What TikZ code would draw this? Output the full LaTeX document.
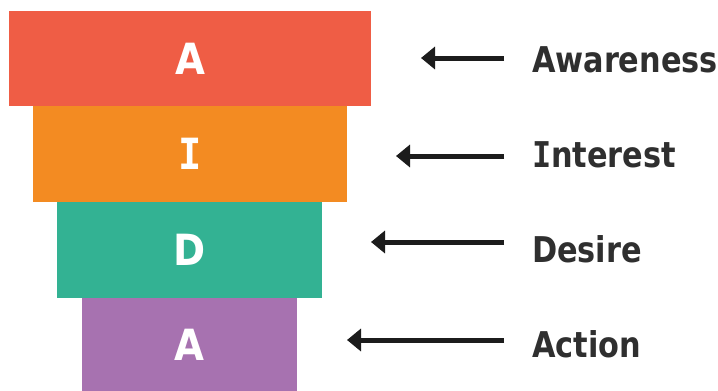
\documentclass[tikz,border=0pt]{standalone}
\usepackage{fontspec}
\setmainfont{DejaVu Sans}
\newfontfamily\labfont{DejaVu Sans}[FakeStretch=0.855]
\newfontfamily\letfont{DejaVu Sans}[FakeStretch=0.9]
\newfontfamily\serifI{DejaVu Sans Mono}[FakeStretch=0.9]
\usetikzlibrary{arrows.meta}
\definecolor{cred}{HTML}{EF5D45}
\definecolor{corange}{HTML}{F38B22}
\definecolor{cteal}{HTML}{33B293}
\definecolor{cpurple}{HTML}{A772B0}
\definecolor{ctext}{HTML}{2F2F2F}
\definecolor{carrow}{HTML}{1C1C1C}
\tikzset{
  stagebox/.style={draw=none, inner sep=0pt, outer sep=0pt, anchor=north west,
    font=\letfont\bfseries\fontsize{43}{43}\selectfont, text=white},
  stagelabel/.style={inner sep=0pt, outer sep=0pt, anchor=base west,
    font=\labfont\bfseries\fontsize{35.5}{36}\selectfont, text=ctext},
  pointer/.style={draw=carrow, line width=5pt,
    -{Triangle[length=14pt,width=22pt]}}
}
\begin{document}
\begin{tikzpicture}[x=1pt,y=-1pt]
\useasboundingbox (0,0) rectangle (718,391);
\fill[white] (0,0) rectangle (718,391);
% funnel stages
\node[stagebox, fill=cred, minimum width=362pt, minimum height=95pt] (sA) at (9,11) {A};
\node[stagebox, fill=corange, minimum width=314pt, minimum height=96pt] (sI) at (33,106) {{\serifI\bfseries I}};
\node[stagebox, fill=cteal, minimum width=265pt, minimum height=96pt] (sD) at (57,202) {D};
\node[stagebox, fill=cpurple, minimum width=215pt, minimum height=93pt] (sB) at (82,298) {A};
% labels
\node[stagelabel] (lA) at (532,72) {Awareness};
\node[stagelabel] (lI) at (532,167) {{\serifI\bfseries I}nterest};
\node[stagelabel] (lD) at (532,262) {Desire};
\node[stagelabel] (lB) at (532,357) {Action};
% arrows
\coordinate (tA) at (504,58);  \coordinate (hA) at (421,58);
\coordinate (tI) at (504,156); \coordinate (hI) at (396,156);
\coordinate (tD) at (504,242); \coordinate (hD) at (371,242);
\coordinate (tB) at (504,340); \coordinate (hB) at (347,340);
\draw[pointer] (tA) -- (hA);
\draw[pointer] (tI) -- (hI);
\draw[pointer] (tD) -- (hD);
\draw[pointer] (tB) -- (hB);
\end{tikzpicture}
\end{document}
